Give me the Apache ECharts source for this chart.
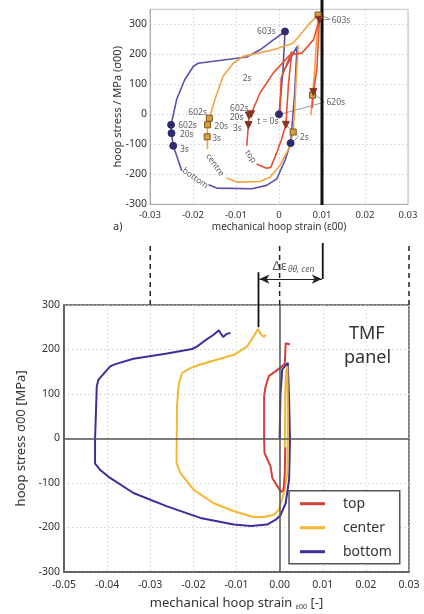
<!DOCTYPE html>
<html>
<head>
<meta charset="utf-8">
<script src="https://cdn.jsdelivr.net/npm/echarts@6/dist/echarts.min.js"></script>
<style>
  html, body { margin: 0; padding: 0; background: #fff; }
  #chart { width: 424px; height: 614px; }
</style>
</head>
<body>
<div id="chart"></div>
<script>
// ---- panel a) : strain / stress paths, null = gap where the inline label sits
const topLoopA = [[0.0002,0],[0.0005,120],[0.003,210],[0.0022,100],[0.0016,-35],[0.0006,-83],[-0.0005,-127],[-0.0019,-177],[-0.0029,-180],[-0.0052,-166],null,[-0.0075,-105],[-0.0072,-50],[-0.0071,-36],[-0.0070,-4],[-0.0065,0],[-0.0044,72],[-0.0013,138],[0.0026,199],[0.0053,204],[0.008,248],[0.0094,315],[0.0088,150],[0.0080,74],[0.0077,20]]
const centreLoopA = [[0.0045,232],[0.0040,120],[0.0036,0],[0.0033,-59],[0.0026,-105],[0.0002,-171],[-0.0021,-210],[-0.0044,-224],[-0.0098,-226],[-0.0122,-212],null,[-0.0166,-116],[-0.0167,-75],[-0.0166,-35],[-0.0162,-13],[-0.0149,50],[-0.013,127],[-0.0106,171],[-0.0083,193],[-0.0013,215],[0.0033,237],[0.0072,304],[0.0091,331],[0.0083,150],[0.0078,64],[0.0074,-3]]
const bottomLoopA = [[0,0],[0.0009,140],[0.0042,226],[0.0036,60],[0.0027,-96],[0.0015,-150],[-0.0005,-215],[-0.0029,-237],[-0.0063,-248],[-0.0145,-246],[-0.0164,-235],null,[-0.0226,-188],[-0.0246,-105],[-0.025,-63],[-0.0251,-35],[-0.0238,50],[-0.0219,116],[-0.0199,160],[-0.0188,170],[-0.0075,191],[-0.0044,215],[-0.0013,248],[0.0014,276],[0.0009,140]]

// time markers (0s/2s/3s/20s/602s/603s/620s)
const bottomMarksA = [[0,0],[0.0027,-96],[-0.0246,-105],[-0.025,-63],[-0.0251,-35],[0.0014,276]]
const centreMarksA = [[-0.0162,-13],[-0.0166,-35],[-0.0167,-75],[0.0033,-59],[0.0091,331],[0.0078,64]]
const topMarksA = [[-0.0065,0],[-0.0070,-4],[-0.0071,-36],[0.0016,-35],[0.0094,315],[0.0080,74]]

// grey leader lines from the time labels to the markers
const leadersA = [
  [[0.0119,317],[0.0095,331]], [[0.0119,317],[0.0095,314]],
  [[0.0105,42],[0.0080,70]], [[0.0105,40],[-0.0002,-2]],
  [[0.0045,-74],[0.0033,-59]], [[0.0045,-76],[0.0027,-96]], [[0.0033,-59],[0.0016,-35]]
]

// text labels of panel a) [text, x, y, side, rotate]
const notesA = [
  ['602s',-0.0238,-38,'right',0], ['20s',-0.0234,-68,'right',0], ['3s',-0.0234,-116,'right',0],
  ['602s',-0.0164,7,'left',0], ['20s',-0.0154,-42,'right',0], ['3s',-0.0159,-81,'right',0],
  ['602s',-0.0067,20,'left',0], ['20s',-0.0079,-12,'left',0], ['3s',-0.0083,-46,'left',0],
  ['t = 0s',-0.0026,-25,'inside',0], ['603s',-0.0004,275,'left',0], ['2s',-0.0074,120,'inside',0],
  ['603s',0.0119,314,'right',0], ['620s',0.0107,40,'right',0], ['2s',0.0045,-76,'right',0],
  ['top',-0.0066,-141,'inside',-55], ['centre',-0.0149,-169,'inside',-55], ['bottom',-0.0195,-213,'inside',-35]
]

// ---- panel b) : TMF panel loops
const topLoopB = [[0.0013,-20],[0.0012,-78],[0.0009,-116],[0.0004,-121],[-0.0005,-108],[-0.0017,-89],[-0.0021,-63],[-0.0035,-33],[-0.0036,-3],[-0.0036,95],[-0.0033,115],[-0.0025,140],[0.0002,159],[0.0012,168],[0.0014,214],[0.0018,213],[0.0024,211]]
const centerLoopB = [[0.0012,-20],[0.0013,100],[0.0015,150],[0.0018,162],[0.0019,80],[0.0019,-3],[0.0018,-78],[0.001,-123],[-0.0002,-161],[-0.0013,-172],[-0.0036,-177],[-0.006,-177],[-0.0106,-164],[-0.0153,-146],[-0.0199,-116],[-0.023,-78],[-0.0239,-56],[-0.0238,72],[-0.0234,121],[-0.0226,147],[-0.0207,158],[-0.0184,166],[-0.0106,188],[-0.0075,207],[-0.006,230],[-0.005,246],[-0.0044,235],[-0.0036,228],[-0.0033,233]]
const bottomLoopB = [[0,0],[0.0002,100],[0.0006,155],[0.0019,170],[0.0022,87],[0.0024,-3],[0.0022,-93],[0.0014,-146],[0.0002,-173],[-0.0009,-183],[-0.0029,-194],[-0.0067,-197],[-0.0106,-194],[-0.0184,-179],[-0.0261,-153],[-0.0339,-123],[-0.0393,-89],[-0.0416,-71],[-0.0428,-57],[-0.0428,-3],[-0.0424,117],[-0.042,132],[-0.0393,162],[-0.0381,167],[-0.0339,179],[-0.0261,191],[-0.0203,201],[-0.0191,207],[-0.0176,218],[-0.0153,233],[-0.0141,243],[-0.0131,228],[-0.0123,235],[-0.0114,237]]

// strain range annotation above panel b)
const dashedX = [-0.03, 0, 0.03]
const rangeLeftX = -0.0049
const rangeRightX = 0.01

const legendNames = ['top', 'center', 'bottom']
const font = "'Noto Sans', 'DejaVu Sans', sans-serif"

const chart = echarts.init(document.getElementById('chart'))

function split(points) {
  const parts = [[]]
  points.forEach(p => p ? parts[parts.length - 1].push(p) : parts.push([]))
  return parts
}

function path(points, color, width, gi, name, z) {
  return split(points).map((seg, i) => ({
    type: 'line', name: i === 0 ? name : name + '_' + i,
    xAxisIndex: gi, yAxisIndex: gi, data: seg,
    symbol: 'none', smooth: false, silent: true, z: z || 3,
    lineStyle: { color: color, width: width }, itemStyle: { color: color }
  }))
}

function marks(points, symbol, size, color, border, rotate) {
  return {
    type: 'scatter', xAxisIndex: 0, yAxisIndex: 0, data: points, z: 6,
    symbol: symbol, symbolSize: size, symbolRotate: rotate || 0, silent: true,
    itemStyle: { color: color, borderColor: border, borderWidth: 1, opacity: 1 }
  }
}

function simpleLine(points, gi, color, width, type, z) {
  return {
    type: 'line', xAxisIndex: gi, yAxisIndex: gi, data: points, symbol: 'none',
    clip: false, silent: true, z: z || 2,
    lineStyle: { color: color, width: width, type: type || 'solid' }
  }
}

const fmtA = v => Math.abs(v) < 1e-9 ? '0' : v.toFixed(2)
const fmtB = v => (Math.abs(v) < 1e-9 ? 0 : v).toFixed(2)

const gridLine = { show: true, lineStyle: { color: '#cfcfcf', type: [1.5, 2.5], width: 1 } }

const series = [
  ...path(bottomLoopA, '#5b4fae', 1.6, 0, 'a_bottom'),
  ...path(centreLoopA, '#f2a444', 1.6, 0, 'a_centre'),
  ...path(topLoopA, '#e8502f', 1.6, 0, 'a_top'),
  ...leadersA.map(l => simpleLine(l, 0, '#9a9a9a', 1, 'solid', 2)),
  simpleLine([[0.01, 382], [0.01, -302]], 0, '#111', 3, 'solid', 5),
  marks(bottomMarksA, 'circle', 7, '#2e2b6e', '#2e2b6e'),
  marks(centreMarksA, 'rect', 6, '#d9a040', '#7a5520'),
  marks(topMarksA, 'triangle', 7, '#8a3324', '#8a3324', 180),
  {
    type: 'scatter', xAxisIndex: 0, yAxisIndex: 0, silent: true, z: 7,
    symbolSize: 1, itemStyle: { color: 'rgba(0,0,0,0)' },
    data: notesA.map(n => ({
      value: [n[1], n[2]], name: n[0],
      label: { position: n[3], rotate: n[4], distance: 1 }
    })),
    label: { show: true, formatter: '{b}', fontSize: 8.5, color: '#333', fontFamily: font }
  },

  // panel b)
  {
    type: 'line', xAxisIndex: 1, yAxisIndex: 1, data: [[0, 0]], symbol: 'none', silent: true, z: 1,
    lineStyle: { width: 0 },
    markLine: {
      silent: true, symbol: 'none', label: { show: false }, animation: false,
      lineStyle: { color: '#555', width: 1.5, type: 'solid' },
      data: [{ xAxis: 0 }, { yAxis: 0 }]
    }
  },
  ...path(bottomLoopB, '#3b2f9c', 2, 1, 'bottom'),
  ...path(centerLoopB, '#f5b731', 2, 1, 'center'),
  ...path(topLoopB, '#d2403a', 2, 1, 'top'),
  simpleLine([[rangeLeftX, 300], [rangeLeftX, 250]], 1, '#111', 1.8, 'solid', 5),

  // annotation strip above panel b)
  ...dashedX.map(x => simpleLine([[x, 300], [x, 440]], 2, '#222', 1.5, [5, 4])),
  simpleLine([[rangeLeftX, 300], [rangeLeftX, 374]], 2, '#111', 1.8),
  {
    type: 'line', xAxisIndex: 2, yAxisIndex: 2, data: [[rangeRightX, 358.6], [rangeRightX, 440]],
    symbol: 'none', silent: true, clip: false, lineStyle: { color: '#111', width: 1.8 },
    markLine: {
      silent: true, symbol: ['arrow', 'arrow'], symbolSize: [7, 10], label: { show: false },
      lineStyle: { color: '#222', width: 1.2, type: 'solid' }, animation: false,
      data: [[{ coord: [rangeLeftX + 0.0002, 358.6] }, { coord: [rangeRightX - 0.0002, 358.6] }]]
    }
  },
  {
    type: 'scatter', xAxisIndex: 2, yAxisIndex: 2, silent: true, symbolSize: 1,
    itemStyle: { color: 'rgba(0,0,0,0)' },
    data: [{ value: [0.0032, 388], name: 'd' }],
    label: {
      show: true, position: 'inside', formatter: '{m|Δε}{s|θθ, cen}',
      rich: {
        m: { fontSize: 13, color: '#333', fontFamily: font },
        s: { fontSize: 8.5, color: '#333', fontStyle: 'italic', fontFamily: font, padding: [7, 0, 0, 1] }
      }
    }
  }
]

const option = {
  animation: false,
  backgroundColor: '#fff',
  textStyle: { fontFamily: font },
  grid: [
    { left: 150, top: 9.3, width: 258, height: 195, show: true, borderColor: '#bdbdbd', borderWidth: 1 },
    { left: 64, top: 305, width: 345, height: 266.7, show: true, borderColor: '#555', borderWidth: 1.5 },
    { left: 64, top: 243, width: 345, height: 62 }
  ],
  xAxis: [
    {
      gridIndex: 0, type: 'value', min: -0.03, max: 0.03, interval: 0.01,
      name: 'mechanical hoop strain (ε00)', nameLocation: 'middle', nameGap: 18,
      nameTextStyle: { fontSize: 10, color: '#333' },
      axisLine: { show: true, onZero: false, lineStyle: { color: '#aaa' } },
      axisTick: { show: false },
      axisLabel: { formatter: fmtA, fontSize: 9.5, color: '#333', margin: 6 },
      splitLine: gridLine
    },
    {
      gridIndex: 1, type: 'value', min: -0.05, max: 0.03, interval: 0.01,
      name: 'mechanical hoop strain {s|ε00} [-]', nameLocation: 'middle', nameGap: 24,
      nameTextStyle: { fontSize: 13, color: '#333', rich: { s: { fontSize: 7, color: '#333', padding: [8, 0, 0, 0] } } },
      axisLine: { show: true, onZero: false, lineStyle: { color: '#555', width: 1.5 } },
      axisTick: { show: false },
      axisLabel: { formatter: fmtB, fontSize: 10.5, color: '#333', margin: 8 },
      splitLine: gridLine
    },
    { gridIndex: 2, type: 'value', min: -0.05, max: 0.03, show: false }
  ],
  yAxis: [
    {
      gridIndex: 0, type: 'value', min: -300, max: 350, interval: 100,
      name: 'hoop stress / MPa (σ00)', nameLocation: 'middle', nameGap: 27, nameMoveOverlap: false,
      nameTextStyle: { fontSize: 11, color: '#333' },
      axisLine: { show: true, onZero: false, lineStyle: { color: '#aaa' } },
      axisTick: { show: false },
      axisLabel: { fontSize: 10.5, color: '#333', margin: 3, showMaxLabel: false },
      splitLine: gridLine
    },
    {
      gridIndex: 1, type: 'value', min: -300, max: 300, interval: 100,
      name: 'hoop stress σ00 [MPa]', nameLocation: 'middle', nameGap: 34,
      nameTextStyle: { fontSize: 13, color: '#333' },
      axisLine: { show: true, onZero: false, lineStyle: { color: '#555', width: 1.5 } },
      axisTick: { show: false },
      axisLabel: { fontSize: 10.5, color: '#333', margin: 4 },
      splitLine: gridLine
    },
    { gridIndex: 2, type: 'value', min: 300, max: 440, show: false }
  ],
  legend: {
    data: legendNames.map(n => ({ name: n, icon: 'rect' })),
    orient: 'vertical', left: 289, top: 490.7,
    padding: [6, 8, 5, 11], itemGap: 10, itemWidth: 25, itemHeight: 3,
    backgroundColor: '#fff', borderColor: '#555', borderWidth: 1.5, borderRadius: 0,
    textStyle: { fontSize: 14, lineHeight: 14, color: '#333', padding: [0, 0, 0, 13] },
    selectedMode: false
  },
  graphic: [
    { type: 'text', left: 349, top: 325, z: 10, style: { text: 'TMF', fontSize: 18, fill: '#333', fontFamily: font } },
    { type: 'text', left: 344, top: 349, z: 10, style: { text: 'panel', fontSize: 18, fill: '#333', fontFamily: font } },
    { type: 'text', left: 113, top: 221, z: 10, style: { text: 'a)', fontSize: 11, fill: '#333', fontFamily: font } }
  ],
  series: series
}

chart.setOption(option)
</script>
</body>
</html>
